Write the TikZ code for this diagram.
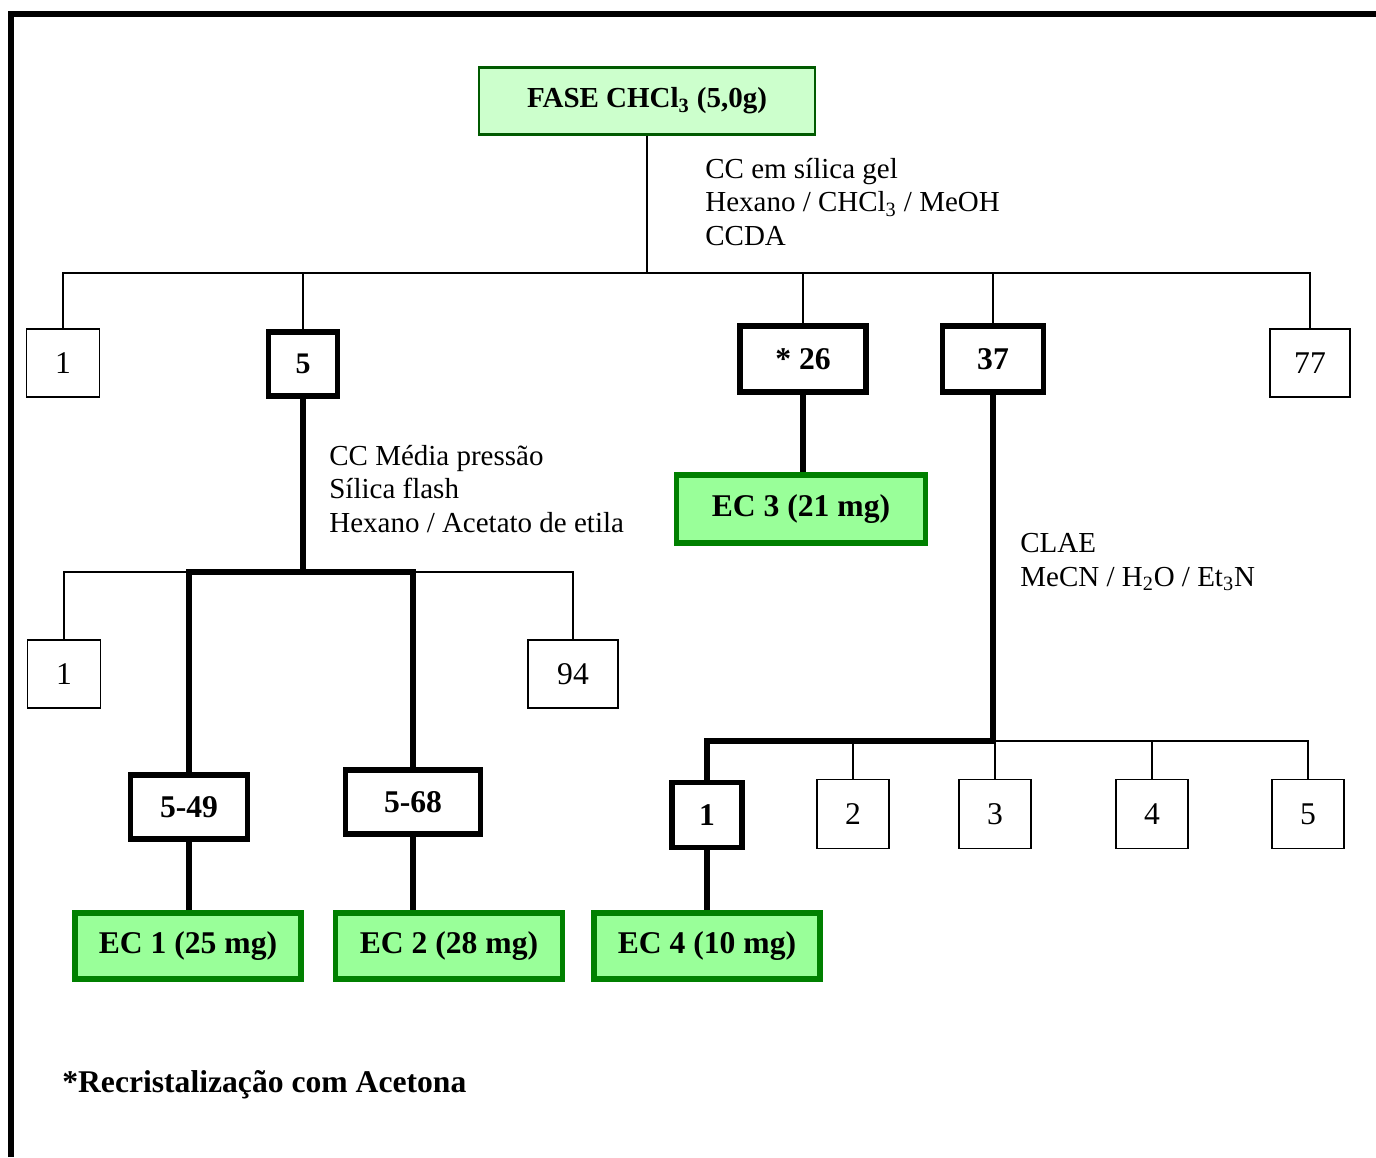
\documentclass[tikz,border=0pt]{standalone}
\usepackage{fontspec}
\setmainfont{Liberation Serif}
\usetikzlibrary{positioning}
\definecolor{stagefill}{HTML}{CCFFCC}
\definecolor{stagegreen}{HTML}{005A00}
\definecolor{ecfill}{HTML}{99FF99}
\definecolor{ecgreen}{HTML}{008000}

\tikzset{
  frac/.style={draw, line width=1pt, fill=white, inner sep=0pt, font=\fontsize{18}{21}\selectfont},
  keyfrac/.style={frac, line width=3pt, font=\fontsize{18}{21}\selectfont\bfseries},
  stage/.style={draw=stagegreen, fill=stagefill, line width=1.2pt, inner sep=0pt, font=\fontsize{16.5}{19.3}\selectfont\bfseries},
  pure/.style={draw=ecgreen, fill=ecfill, line width=3pt, inner sep=0pt, font=\fontsize{18}{21}\selectfont\bfseries},
  link/.style={line width=1pt},
  mainlink/.style={line width=3pt},
  note/.style={align=left, anchor=west, inner sep=0pt, font=\fontsize{16.5}{19.3}\selectfont},
}

\begin{document}
\begin{tikzpicture}[x=0.02cm, y=-0.02cm]
    \useasboundingbox (0,0) rectangle (1376,1157);
    % Page frame, open to the right and bottom
    \draw[line width=3.4pt] (11,1157) -- (11,14) -- (1376,14);

    % Starting phase
    \node (fase) [stage, minimum width=6.72cm, minimum height=1.34cm] at (647,101) {FASE CHCl\textsubscript{3} (5,0g)};

    % First column: fractions
    \node (f1) [frac, minimum width=1.46cm, minimum height=1.36cm] at (63,363) {1};
    \node (f5) [keyfrac, minimum width=1.38cm, minimum height=1.28cm, font=\fontsize{17}{19}\selectfont\bfseries] at (303,364) {5};
    \node (f26) [keyfrac, minimum width=2.52cm, minimum height=1.32cm] at (803,359) {* 26};
    \node (f37) [keyfrac, minimum width=2.02cm, minimum height=1.32cm] at (993,359) {37};
    \node (f77) [frac, minimum width=1.60cm, minimum height=1.36cm] at (1310,363) {77};
    \coordinate (bus1) at (647,273);
    \node [note] at (705,202) {CC em sílica gel\\Hexano / CHCl\textsubscript{3} / MeOH\\CCDA};

    \draw[link] (fase.south) -- (fase.south |- bus1);
    \draw[link] (f1.north) -- (f1.north |- bus1) -- (f77.north |- bus1) -- (f77.north);
    \draw[link] (f5.north) -- (f5.north |- bus1);
    \draw[link] (f26.north) -- (f26.north |- bus1);
    \draw[link] (f37.north) -- (f37.north |- bus1);

    % Fraction 26
    \node (ec3) [pure, minimum width=4.98cm, minimum height=1.36cm] at (801,509) {EC 3 (21 mg)};
    \draw[mainlink] (f26.south) -- (f26.south |- ec3.north);

    % Fraction 5: flash column
    \node [note] at (329,489) {CC Média pressão\\Sílica flash\\Hexano / Acetato de etila};
    \coordinate (bus2) at (303,572);
    \node (s1) [frac, minimum width=1.46cm, minimum height=1.36cm] at (64,674) {1};
    \node (s94) [frac, minimum width=1.80cm, minimum height=1.36cm] at (573,674) {94};
    \node (s49) [keyfrac, minimum width=2.34cm, minimum height=1.28cm] at (189,807) {5-49};
    \node (s68) [keyfrac, minimum width=2.70cm, minimum height=1.28cm] at (413,802) {5-68};
    \node (ec1) [pure, minimum width=4.52cm, minimum height=1.32cm] at (188,946) {EC 1 (25 mg)};
    \node (ec2) [pure, minimum width=4.54cm, minimum height=1.32cm] at (449,946) {EC 2 (28 mg)};

    \draw[mainlink] (f5.south) -- (f5.south |- bus2);
    \draw[link] (s1.north) -- (s1.north |- bus2) -- (s94.north |- bus2) -- (s94.north);
    \draw[mainlink] (s49.north) -- (s49.north |- bus2) -- (s68.north |- bus2) -- (s68.north);
    \draw[mainlink] (s49.south) -- (s49.south |- ec1.north);
    \draw[mainlink] (s68.south) -- (s68.south |- ec2.north);

    % Fraction 37: HPLC
    \node [note] at (1020,562) {CLAE\\MeCN / H\textsubscript{2}O / Et\textsubscript{3}N};
    \coordinate (bus3) at (993,741);
    \node (h1) [keyfrac, minimum width=1.40cm, minimum height=1.30cm] at (707,815) {1};
    \node (h2) [frac, minimum width=1.44cm, minimum height=1.38cm] at (853,814) {2};
    \node (h3) [frac, minimum width=1.44cm, minimum height=1.38cm] at (995,814) {3};
    \node (h4) [frac, minimum width=1.44cm, minimum height=1.38cm] at (1152,814) {4};
    \node (h5) [frac, minimum width=1.44cm, minimum height=1.38cm] at (1308,814) {5};
    \node (ec4) [pure, minimum width=4.52cm, minimum height=1.32cm] at (707,946) {EC 4 (10 mg)};

    \draw[link] (bus3) -- (h5.north |- bus3) -- (h5.north);
    \draw[link] (h2.north) -- (h2.north |- bus3);
    \draw[link] (h3.north) -- (h3.north |- bus3);
    \draw[link] (h4.north) -- (h4.north |- bus3);
    \draw[mainlink] (f37.south) -- (bus3) -- (h1.north |- bus3) -- (h1.north);
    \draw[mainlink] (h1.south) -- (h1.south |- ec4.north);

    \node [note, font=\fontsize{18}{21}\selectfont\bfseries] at (62,1085) {*Recristalização com Acetona};
\end{tikzpicture}
\end{document}
